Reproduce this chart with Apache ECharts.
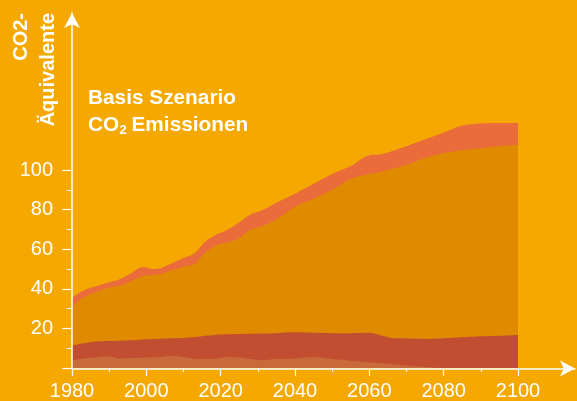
<!DOCTYPE html>
<html><head><meta charset="utf-8">
<script src="https://cdn.jsdelivr.net/npm/echarts@6/dist/echarts.min.js"></script>
<style>html,body{margin:0;padding:0;background:#f5a800}#c{width:577px;height:401px}</style>
</head><body><div id="c"></div>
<script>
const years = [1980,1983,1986,1990,1993,1996,1999,2002,2004,2007,2010,2013,2016,2019,2022,2025,2028,2031,2035,2040,2045,2050,2055,2060,2063,2066,2070,2075,2080,2085,2090,2095,2100];
// upper edge of each band
const totalTop  = [35.5,39,41,43.3,45,48,51,50,50.5,53,55.5,58,64,67.5,70,73.5,77.5,79.5,83.5,88,93,98,102,107.5,107.8,109.5,112,115.5,119,122.5,123.5,123.7,123.8];
const co2Top    = [31,35.5,38,40.5,41.5,44,46.5,47,47.5,49.5,51,52.5,58.5,62,63.5,65.5,70,71.5,75,81.5,85.5,90,95.5,98,99,100.5,102.5,106,108.5,110,111,112,112.7];
const redTop    = [11.3,12.5,13.3,13.6,13.8,14,14.4,14.6,14.8,15,15.2,15.6,16.3,16.8,17,17.2,17.3,17.4,17.6,18,17.8,17.6,17.6,17.8,16.5,15.1,14.9,14.7,15,15.5,16,16.3,16.7];
const lowTop    = [3.8,4.8,5.3,5.8,4.8,5,5.2,5.4,5.6,6,5.5,4.7,4.6,4.8,5.6,5.3,4.5,3.9,4.5,4.8,5.5,4.5,3.7,2.9,2.5,2,1.2,0.5,0,0,0,0,0];
const xTicks = [1980,2000,2020,2040,2060,2080,2100];
const yTicks = [20,40,60,80,100];

const FONT = '"Liberation Sans", Arial, sans-serif';
const pairs = arr => years.map((y,i)=>[y,arr[i]]);
function area(name, arr, color, z){
  return {name, type:'line', xAxisIndex:0, yAxisIndex:0, data:pairs(arr), smooth:0.3,
    showSymbol:false, symbol:'none', lineStyle:{width:0}, areaStyle:{color, opacity:1}, z, clip:false, silent:true};
}
const chart = echarts.init(document.getElementById('c'), null, {renderer:'canvas'});
chart.setOption({
  backgroundColor:'#f5a800',
  animation:false,
  grid:[
    {left:72, right:59, top:170, bottom:32.5},
    {left:72, right:2, top:13, bottom:32.5}
  ],
  xAxis:[
    {gridIndex:0, type:'value', min:1980, max:2100, interval:20,
      axisLine:{show:false}, splitLine:{show:false},
      axisTick:{show:true, length:8, lineStyle:{color:'#fff', width:1.2}},
      minorTick:{show:true, splitNumber:2, length:4, lineStyle:{color:'#fff', width:1}},
      axisLabel:{color:'#fff', fontSize:20, fontFamily:FONT, margin:13,
        formatter:v=>xTicks.includes(v)?String(v):''}, z:10},
    {gridIndex:1, type:'value', min:0, max:1, axisLabel:{show:false}, axisTick:{show:false}, splitLine:{show:false},
      axisLine:{show:true, symbol:['none','arrow'], symbolSize:[12,15], lineStyle:{color:'#fff', width:1.5}}, z:10}
  ],
  yAxis:[
    {gridIndex:0, type:'value', min:0, max:100, interval:20,
      axisLine:{show:false}, splitLine:{show:false},
      axisTick:{show:true, length:10, lineStyle:{color:'#fff', width:1.2}},
      minorTick:{show:true, splitNumber:2, length:5, lineStyle:{color:'#fff', width:1}},
      axisLabel:{color:'#fff', fontSize:20, fontFamily:FONT, margin:19,
        formatter:v=>yTicks.includes(v)?String(v):''}, z:10},
    {gridIndex:1, type:'value', min:0, max:1, axisLabel:{show:false}, axisTick:{show:false}, splitLine:{show:false},
      axisLine:{show:true, symbol:['none','arrow'], symbolSize:[12,15], lineStyle:{color:'#fff', width:1.5}}, z:10}
  ],
  series:[
    area('Gesamt', totalTop, '#ea6c3a', 1),
    area('CO2', co2Top, '#e08a00', 2),
    area('Andere', redTop, '#c24e32', 3),
    area('Rest', lowTop, '#c96a3b', 4)
  ],
  graphic:[
    {type:'text', x:88, y:88, style:{text:'Basis Szenario', fill:'#fff', fontSize:20.8, fontWeight:'bold', fontFamily:FONT, textAlign:'left', textVerticalAlign:'top', align:'left', verticalAlign:'top'}, z:20},
    {type:'text', x:88, y:114.5, style:{text:'CO', fill:'#fff', fontSize:20.8, fontWeight:'bold', fontFamily:FONT, textAlign:'left', textVerticalAlign:'top', align:'left', verticalAlign:'top'}, z:20},
    {type:'text', x:119.5, y:124, style:{text:'2', fill:'#fff', fontSize:13, fontWeight:'bold', fontFamily:FONT, textAlign:'left', textVerticalAlign:'top', align:'left', verticalAlign:'top'}, z:20},
    {type:'text', x:131.5, y:114.5, style:{text:'Emissionen', fill:'#fff', fontSize:20.8, fontWeight:'bold', fontFamily:FONT, textAlign:'left', textVerticalAlign:'top', align:'left', verticalAlign:'top'}, z:20},
    {type:'text', x:21, y:13, rotation:Math.PI/2, style:{text:'CO2-', fill:'#fff', fontSize:20, fontWeight:'bold', fontFamily:FONT, textAlign:'right', textVerticalAlign:'middle', align:'right', verticalAlign:'middle'}, z:20},
    {type:'text', x:48, y:13, rotation:Math.PI/2, style:{text:'Äquivalente', fill:'#fff', fontSize:20, fontWeight:'bold', fontFamily:FONT, textAlign:'right', textVerticalAlign:'middle', align:'right', verticalAlign:'middle'}, z:20}
  ]
});
</script></body></html>
